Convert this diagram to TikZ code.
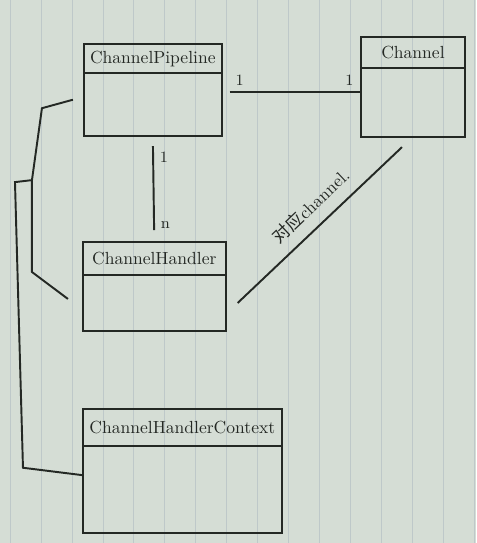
\documentclass[tikz,border=0pt]{standalone}
\usepackage{fontspec}
\newfontfamily\cjk{Noto Sans CJK SC}
\usetikzlibrary{positioning}
\definecolor{paper}{RGB}{213,221,213}
\definecolor{ruling}{RGB}{190,200,201}
\definecolor{pen}{RGB}{36,40,36}
\tikzstyle{classhead}=[rectangle, draw=pen, line width=1.1pt, outer sep=0pt, inner sep=2pt, text=pen]
\tikzstyle{classbody}=[rectangle, draw=pen, line width=1.1pt, outer sep=0pt]
\tikzstyle{link}=[draw=pen, line width=1.1pt]
\tikzstyle{mult}=[text=pen, font=\small]
\newcommand{\classhead}{\node[classhead]}
\newcommand{\classbody}{\node[classbody]}

\begin{document}
\begin{tikzpicture}[x=0.02cm, y=-0.02cm]
\fill[paper] (0,0) rectangle (477,543);
\foreach \x in {10,41,...,477} \draw[ruling, line width=0.4pt] (\x,0) -- (\x,543);

\classhead[minimum width=2.76cm, minimum height=0.58cm] (pipehead) at (153,58.5) {ChannelPipeline};
\classbody[minimum width=2.76cm, minimum height=1.26cm, below=0pt of pipehead] (pipebody) {};
\classhead[minimum width=2.1cm, minimum height=0.62cm] (chanhead) at (413.5,52.5) {Channel};
\classbody[minimum width=2.1cm, minimum height=1.38cm, below=0pt of chanhead] (chanbody) {};
\classhead[minimum width=2.86cm, minimum height=0.66cm] (handhead) at (154.5,258.5) {ChannelHandler};
\classbody[minimum width=2.86cm, minimum height=1.12cm, below=0pt of handhead] (handbody) {};
\classhead[minimum width=3.98cm, minimum height=0.74cm] (ctxhead) at (182.5,427.5) {ChannelHandlerContext};
\classbody[minimum width=3.98cm, minimum height=1.74cm, below=0pt of ctxhead] (ctxbody) {};

\draw[link, shorten <=0.16cm] ([yshift=0.25cm]pipebody.east) -- ([yshift=0.25cm]pipebody.east -| chanbody.west)
  node[mult, pos=0.13, above]{1} node[mult, pos=0.92, above]{1};
\draw[link, shorten <=0.2cm, shorten >=0.24cm] (pipebody.south) -- (handhead.north)
  node[mult, pos=0.2, right]{1} node[mult, pos=0.84, right]{n};
\draw[link] ([xshift=0.24cm]handbody.east) -- ([xshift=-0.22cm, yshift=-0.2cm]chanbody.south)
  node[pos=0.53, sloped, above=3pt, text=pen]{{\cjk 对应}channel.};

\coordinate (join) at (32,180);
\draw[link] ([xshift=-0.22cm, yshift=0.1cm]pipebody.west) -- (42,108) -- (join) -- (32,272) -- ([xshift=-0.3cm, yshift=0.08cm]handbody.west);
\draw[link] (join) -- (15,182) -- (23,468) -- ([yshift=0.28cm]ctxbody.west);
\end{tikzpicture}
\end{document}
